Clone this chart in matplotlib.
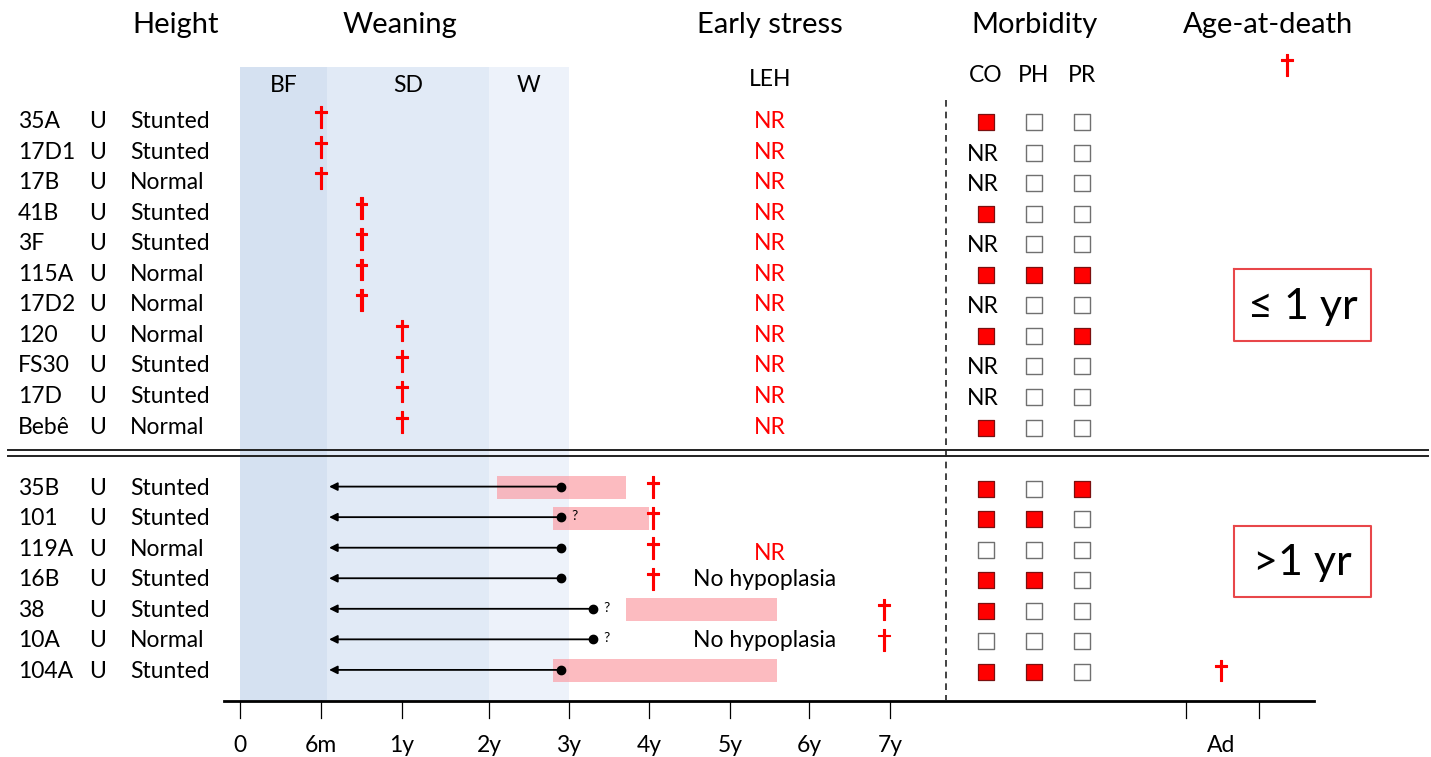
import numpy as np
import matplotlib
matplotlib.use("Agg")
import matplotlib.pyplot as plt
import matplotlib.patheffects as pe

plt.rcParams['font.family'] = ['Lato', 'DejaVu Sans']

# ---------------- data ----------------
ids_young = ['35A', '17D1', '17B', '41B', '3F', '115A', '17D2', '120', 'FS30', '17D', 'Bebê']
sex_young = ['U'] * 11
height_young = ['Stunted', 'Stunted', 'Normal', 'Stunted', 'Stunted', 'Normal', 'Normal',
                'Normal', 'Stunted', 'Stunted', 'Normal']
death_young = [0.5, 0.5, 0.5, 0.75, 0.75, 0.75, 0.75, 1.0, 1.0, 1.0, 1.0]   # years
leh_young = ['NR'] * 11
co_young = [1, None, None, 1, None, 1, None, 1, None, None, 1]   # None = NR
ph_young = [0, 0, 0, 0, 0, 1, 0, 0, 0, 0, 0]
pr_young = [0, 0, 0, 0, 0, 1, 0, 1, 0, 0, 0]

ids_old = ['35B', '101', '119A', '16B', '38', '10A', '104A']
sex_old = ['U'] * 7
height_old = ['Stunted', 'Stunted', 'Normal', 'Stunted', 'Stunted', 'Normal', 'Stunted']
death_old = [4.05, 4.05, 4.05, 4.05, 6.93, 6.93, 'Ad']
wean_start = [0.55] * 7
wean_end = [2.9, 2.9, 2.9, 2.9, 3.3, 3.3, 2.9]
wean_uncertain = [False, True, False, False, True, True, False]
leh_start = [2.1, 2.8, None, None, 3.71, None, 2.8]
leh_end = [3.71, 4.0, None, None, 5.6, None, 5.6]
leh_text_old = [None, None, 'NR', 'No hypoplasia', None, 'No hypoplasia', None]
co_old = [1, 1, 0, 1, 1, 0, 1]
ph_old = [0, 1, 0, 1, 0, 0, 1]
pr_old = [1, 0, 0, 0, 0, 0, 0]

tick_ages = [0, 0.5, 1, 2, 3, 4, 5, 6, 7]
tick_labels = ['0', '6m', '1y', '2y', '3y', '4y', '5y', '6y', '7y']
phases = ['BF', 'SD', 'W']
phase_bounds = [(0, 0.54), (0.54, 2.0), (2.0, 3.0)]
phase_colors = ['#d5e1f1', '#e1eaf6', '#edf2fa']

# ---------------- layout (pixel space) ----------------
W, H = 1431, 757
tick_px = [240, 321, 402, 489, 569, 649, 730, 809, 890]
AD_X = 1221
AD_TICKS = [1186, 1259]
ROW0, ROWSTEP = 120, 30.55
young_rows = np.arange(len(ids_young))
old_rows = np.arange(len(ids_old)) + len(ids_young) + 1

def age_x(a):
    if a == 'Ad':
        return AD_X
    return float(np.interp(a, tick_ages, tick_px))

def row_y(r):
    return ROW0 + ROWSTEP * r

fig = plt.figure(figsize=(W / 100, H / 100), dpi=100)
ax = fig.add_axes([0, 0, 1, 1])
ax.set_xlim(0, W)
ax.set_ylim(H, 0)
ax.axis('off')

RED = '#ff0000'
TXT = 16.5
DY = 1.5   # text baseline nudge

# phase shading
TOP, BOT = 67, 701
for name, (a0, a1), c in zip(phases, phase_bounds, phase_colors):
    ax.fill_between([age_x(a0), age_x(a1)], TOP, BOT, color=c, lw=0, zorder=0)
    ax.text((age_x(a0) + age_x(a1)) / 2, 84 + DY, name, ha='center', va='center', fontsize=TXT)

# headers
for x, t in [(176, 'Height'), (400, 'Weaning'), (770, 'Early stress'),
             (1035, 'Morbidity'), (1268, 'Age-at-death')]:
    ax.text(x, 25, t, ha='center', va='center', fontsize=21)
ax.text(770, 78 + DY, 'LEH', ha='center', va='center', fontsize=TXT)
COLS = [986, 1034, 1082]
for x, t in zip(COLS, ['CO', 'PH', 'PR']):
    ax.text(x, 74 + DY, t, ha='center', va='center', fontsize=TXT)

def dagger(x, y):
    ax.text(x, y, '†', ha='center', va='center', fontsize=19, color=RED,
            family='DejaVu Sans', zorder=5,
            path_effects=[pe.withStroke(linewidth=0.8, foreground=RED)])

dagger(1287, 66)

# row labels
def labels(rows, ids, sex, hts):
    for r, i, s, h in zip(rows, ids, sex, hts):
        y = row_y(r) + DY
        ax.text(18, y, i, ha='left', va='center', fontsize=TXT)
        ax.text(98, y, s, ha='center', va='center', fontsize=TXT)
        ax.text(130, y, h, ha='left', va='center', fontsize=TXT)

labels(young_rows, ids_young, sex_young, height_young)
labels(old_rows, ids_old, sex_old, height_old)

# young group
for r, d, l in zip(young_rows, death_young, leh_young):
    dagger(age_x(d), row_y(r) - 2)
    ax.text(770, row_y(r) + DY, l, ha='center', va='center', fontsize=TXT, color=RED)

# old group: LEH bars, weaning arrows, deaths
for r, s0, s1 in zip(old_rows, leh_start, leh_end):
    if s0 is not None:
        ax.barh(row_y(r) + 1, age_x(s1) - age_x(s0), left=age_x(s0), height=23,
                color='#fb9ea6', alpha=0.7, lw=0, zorder=2)
for r, a0, a1, q in zip(old_rows, wean_start, wean_end, wean_uncertain):
    y = row_y(r)
    ax.annotate('', xy=(age_x(a0), y), xytext=(age_x(a1), y),
                arrowprops=dict(arrowstyle='-|>', color='black', lw=1.3,
                                mutation_scale=12, shrinkA=0, shrinkB=0), zorder=3)
    ax.plot(age_x(a1), y, 'o', color='black', ms=6, zorder=4)
    if q:
        ax.text(age_x(a1) + 10, y - 1, '?', ha='left', va='center', fontsize=10)
for r, d in zip(old_rows, death_old):
    dagger(age_x(d), row_y(r) + 2)
for r, t in zip(old_rows, leh_text_old):
    if t == 'NR':
        ax.text(770, row_y(r) + 4 + DY, t, ha='center', va='center', fontsize=TXT, color=RED)
    elif t is not None:
        ax.text(765, row_y(r) + DY, t, ha='center', va='center', fontsize=TXT)

# morbidity squares
def squares(rows, co, ph, pr):
    for col_x, vals in zip(COLS, [co, ph, pr]):
        for r, v in zip(rows, vals):
            y = row_y(r) + 2
            if v is None:
                ax.text(col_x - 3, y + DY, 'NR', ha='center', va='center', fontsize=TXT)
            elif v == 1:
                ax.scatter(col_x, y, s=145, marker='s', facecolor=RED, edgecolor='#7a1010',
                           lw=0.9, zorder=4)
            else:
                ax.scatter(col_x, y, s=145, marker='s', facecolor='white', edgecolor='#707070',
                           lw=1.0, zorder=4)

squares(young_rows, co_young, ph_young, pr_young)
squares(old_rows, co_old, ph_old, pr_old)

# dashed separator, group separator
ax.plot([946, 946], [100, 700], ls=(0, (4, 3)), color='#222222', lw=1.2)
for y in (450, 456):
    ax.plot([8, 1428], [y, y], color='#222222', lw=1.4)

# group boxes
for (x0, y0, x1, y1), t, fs in [((1234, 269, 1371, 341), '≤ 1 yr', 31),
                               ((1234, 526, 1371, 597), '>1 yr', 31)]:
    ax.plot([x0, x1, x1, x0, x0], [y0, y0, y1, y1, y0], color='#e8474a', lw=1.5)
    ax.text((x0 + x1) / 2, (y0 + y1) / 2 + 2, t, ha='center', va='center', fontsize=fs)

# time axis
ax.plot([224, 1314], [701, 701], color='black', lw=2)
for xt, lab in zip(tick_px, tick_labels):
    ax.plot([xt, xt], [701, 718], color='black', lw=0.9)
    ax.text(xt, 746, lab, ha='center', va='center', fontsize=TXT)
for xt in AD_TICKS:
    ax.plot([xt, xt], [701, 718], color='black', lw=0.9)
ax.text(AD_X, 746, 'Ad', ha='center', va='center', fontsize=TXT)

fig.savefig('out.png', dpi=100)
